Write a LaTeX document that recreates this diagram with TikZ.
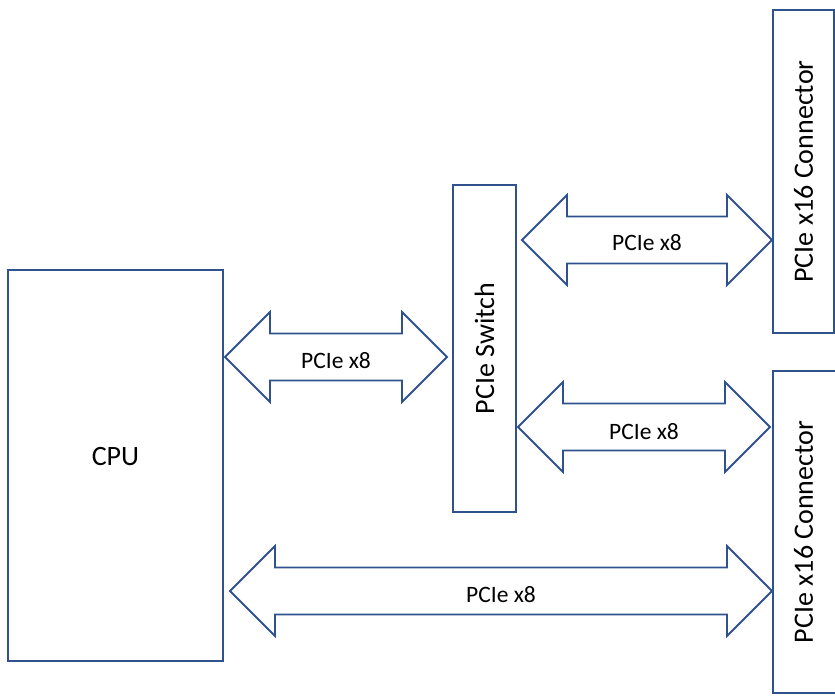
\documentclass[tikz,border=0pt]{standalone}
\usepackage{fontspec}
\setmainfont{Carlito}
\usepackage{tikz}
\usetikzlibrary{calc}
\definecolor{LinkBlue}{HTML}{2F528F}

\begin{document}
\begin{tikzpicture}[
  x=1pt,y=-1pt,
  box/.style={draw=LinkBlue,line width=2pt,inner sep=0pt,outer sep=0pt,font=\fontsize{28}{34}\selectfont},
  bus/.style={draw=LinkBlue,line width=1.8pt,line join=miter,
    to path={let \p1=(\tikztostart), \p2=(\tikztotarget) in
      -- (\x1+45pt,\y1+45pt) -- (\x1+45pt,\y1+23.5pt) -- (\x2-45pt,\y1+23.5pt) -- (\x2-45pt,\y1+45pt)
      -- (\x2,\y1) -- (\x2-45pt,\y1-45pt) -- (\x2-45pt,\y1-23.5pt) -- (\x1+45pt,\y1-23.5pt)
      -- (\x1+45pt,\y1-45pt) -- cycle}},
  buslabel/.style={font=\fontsize{23.5}{28}\selectfont,inner sep=0pt}
]
\useasboundingbox (0,0) rectangle (835,696);
\node[box,minimum width=215pt,minimum height=391pt,text height=20pt,text depth=20pt] (cpu) at (115.5,465.5) {CPU};
\node[box,minimum width=63pt,minimum height=327pt] (sw) at (484.5,348.5) {\rotatebox{90}{PCIe Switch}};
\node[box,minimum width=61pt,minimum height=323pt] (con1) at (803.5,171.5) {\rotatebox{90}{PCIe x16 Connector}};
\node[box,minimum width=67pt,minimum height=322pt] (con2) at (806.5,532) {\rotatebox{90}{PCIe x16 Connector}\kern6pt};
\coordinate (b1w) at ($(cpu.east |- 0,357)+(2,0)$);
\coordinate (b1e) at ($(sw.west |- 0,357)+(-6,0)$);
\coordinate (b2w) at ($(sw.east |- 0,240)+(6,0)$);
\coordinate (b2e) at ($(con1.west |- 0,240)+(-1,0)$);
\coordinate (b3w) at ($(sw.east |- 0,427)+(2,0)$);
\coordinate (b3e) at ($(con2.west |- 0,427)+(-3,0)$);
\coordinate (b4w) at ($(cpu.east |- 0,591)+(7,0)$);
\coordinate (b4e) at ($(con2.west |- 0,591)+(-1,0)$);
\draw[bus] (b1w) to (b1e);
\draw[bus] (b2w) to (b2e);
\draw[bus] (b3w) to (b3e);
\draw[bus] (b4w) to (b4e);
\node[buslabel] (lab1) at ($(b1w)!0.5!(b1e)+(0,4)$) {PCIe x8};
\node[buslabel] (lab2) at ($(b2w)!0.5!(b2e)+(0,3)$) {PCIe x8};
\node[buslabel] (lab3) at ($(b3w)!0.5!(b3e)+(0,5)$) {PCIe x8};
\node[buslabel] (lab4) at ($(b4w)!0.5!(b4e)+(0,4)$) {PCIe x8};
\end{tikzpicture}
\end{document}
